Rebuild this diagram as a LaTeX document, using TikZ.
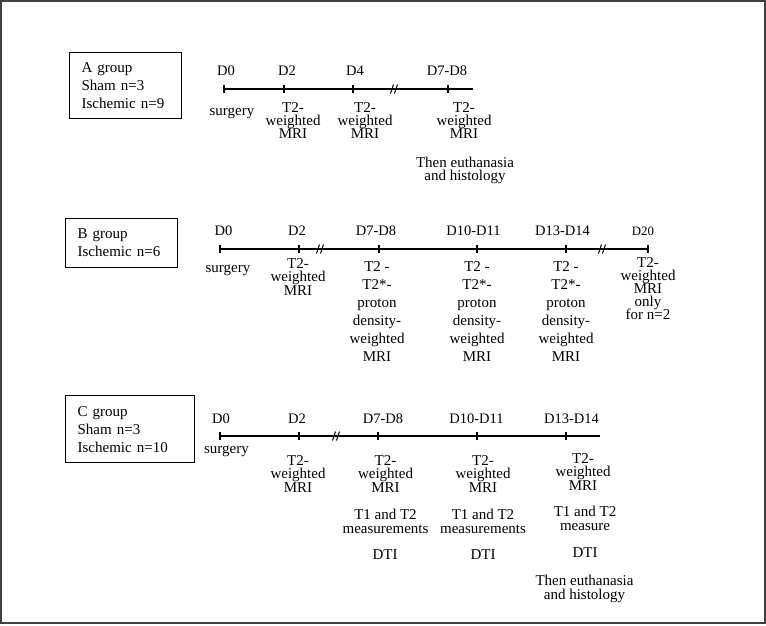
\documentclass[tikz,border=0pt]{standalone}
\usepackage{fontspec}
\setmainfont{Liberation Serif}
\usetikzlibrary{positioning}
\setlength{\lineskiplimit}{-20pt}

\tikzset{
	axis/.style={line width=1.3pt},
	grp/.style={draw, line width=1.3pt, anchor=north west, align=left, inner xsep=12pt, inner ysep=0pt, font=\fontsize{15}{18}\selectfont},
	day/.style={anchor=base, inner sep=0pt, font=\fontsize{14.5}{16}\selectfont},
	act/.style={anchor=base, inner sep=0pt, align=center, font=\fontsize{15}{13}\selectfont},
	lead/.style={font=\fontsize{15}{#1}\selectfont},
	brk/.pic={\draw[line width=1pt] (-3.5,4.5) -- (-0.5,-4.5) (0.5,4.5) -- (3.5,-4.5);}
}

\begin{document}
\begin{tikzpicture}[x=1pt, y=-1pt]
	\useasboundingbox (0,0) rectangle (766,625);
	\draw[line width=1.5pt, black!75] (1,1) rectangle (765,623);
	%%%	Group A
	\node[grp, text width=88pt, minimum height=66pt] (boxA) at (69,52) {A group\\Sham n=3\\Ischemic n=9};
	\coordinate (a0) at (224,89);
	\coordinate (a2) at (284,89);
	\coordinate (a4) at (353,89);
	\coordinate (abrk) at (394,89);
	\coordinate (a78) at (448,89);
	\coordinate (aend) at (473,89);
	\draw[axis] (a0) -- (aend);
	\foreach \t in {a0,a2,a4,a78}
	\draw[axis] ([yshift=4pt]\t) -- ([yshift=-4pt]\t);
	\pic at (abrk) {brk};
	\node[day] (aD0) at (226,75) {D0};
	\node[day] (aD2) at (287,75) {D2};
	\node[day] (aD4) at (355,75) {D4};
	\node[day] (aD78) at (447,75) {D7-D8};
	% base = last line
	\node[act] (aSurg) at (232,115) {surgery};
	\node[act] (aMri2) at (293,138) {T2-\\weighted\\MRI};
	\node[act] (aMri4) at (365,138) {T2-\\weighted\\MRI};
	\node[act] (aMri78) at (464,138) {T2-\\weighted\\MRI};
	\node[act, lead=13.5] (aEnd) at (465,180.5) {Then euthanasia\\and histology};
	%%%	Group B
	\node[grp, text width=88pt, minimum height=49pt] (boxB) at (65,218) {B group\\Ischemic n=6};
	\coordinate (b0) at (220,249);
	\coordinate (b2) at (299,249);
	\coordinate (bbrk1) at (320,249);
	\coordinate (b78) at (379,249);
	\coordinate (b1011) at (477,249);
	\coordinate (b1314) at (566,249);
	\coordinate (bbrk2) at (602,249);
	\coordinate (b20) at (648,249);
	\draw[axis] (b0) -- (b20);
	\foreach \t in {b0,b2,b78,b1011,b1314,b20}
	\draw[axis] ([yshift=4pt]\t) -- ([yshift=-4pt]\t);
	\pic at (bbrk1) {brk};
	\pic at (bbrk2) {brk};
	\node[day] (bD0) at (223.5,235) {D0};
	\node[day] (bD2) at (297,235) {D2};
	\node[day] (bD78) at (376,235) {D7-D8};
	\node[day] (bD1011) at (473.5,235) {D10-D11};
	\node[day] (bD1314) at (562.5,235) {D13-D14};
	\node[day, font=\fontsize{12.8}{14}\selectfont] (bD20) at (643,235) {D20};
	\node[act] (bSurg) at (228,272) {surgery};
	\node[act, lead=13.5] (bMri2) at (298,295) {T2-\\weighted\\MRI};
	\node[act, lead=18] (bMri78) at (377,361) {T2 -\\T2*-\\proton\\density-\\weighted\\MRI};
	\node[act, lead=18] (bMri1011) at (477,361) {T2 -\\T2*-\\proton\\density-\\weighted\\MRI};
	\node[act, lead=18] (bMri1314) at (566,361) {T2 -\\T2*-\\proton\\density-\\weighted\\MRI};
	\node[act] (bMri20) at (648,319) {T2-\\weighted\\MRI\\only\\for n=2};
	%%%	Group C
	\node[grp, text width=105pt, minimum height=67pt] (boxC) at (65,395) {C group\\Sham n=3\\Ischemic n=10};
	\coordinate (c0) at (220,436);
	\coordinate (c2) at (299,436);
	\coordinate (cbrk) at (336,436);
	\coordinate (c78) at (378,436);
	\coordinate (c1011) at (477,436);
	\coordinate (c1314) at (566,436);
	\coordinate (cend) at (600,436);
	\draw[axis] (c0) -- (cend);
	\foreach \t in {c0,c2,c78,c1011,c1314}
	\draw[axis] ([yshift=4pt]\t) -- ([yshift=-4pt]\t);
	\pic at (cbrk) {brk};
	\node[day] (cD0) at (221,423) {D0};
	\node[day] (cD2) at (297,423) {D2};
	\node[day] (cD78) at (383,423) {D7-D8};
	\node[day] (cD1011) at (476.5,423) {D10-D11};
	\node[day] (cD1314) at (571.5,423) {D13-D14};
	\node[act] (cSurg) at (226.5,453) {surgery};
	\node[act, lead=13.5] (cMri2) at (298,492) {T2-\\weighted\\MRI};
	\node[act, lead=13.5] (cMri78) at (385.5,492) {T2-\\weighted\\MRI};
	\node[act, lead=13.5] (cMri1011) at (483,492) {T2-\\weighted\\MRI};
	\node[act, lead=13.5] (cMri1314) at (583,490) {T2-\\weighted\\MRI};
	% relaxometry and diffusion
	\node[act, lead=14] (cRel78) at (385.5,533) {T1 and T2\\measurements};
	\node[act, lead=14] (cRel1011) at (483,533) {T1 and T2\\measurements};
	\node[act, lead=14] (cRel1314) at (585,530) {T1 and T2\\measure};
	\node[act] (cDti78) at (385,559) {DTI};
	\node[act] (cDti1011) at (483,559) {DTI};
	\node[act] (cDti1314) at (585,557) {DTI};
	\node[act, lead=14] (cEnd) at (584.5,599) {Then euthanasia\\and histology};
\end{tikzpicture}
\end{document}
